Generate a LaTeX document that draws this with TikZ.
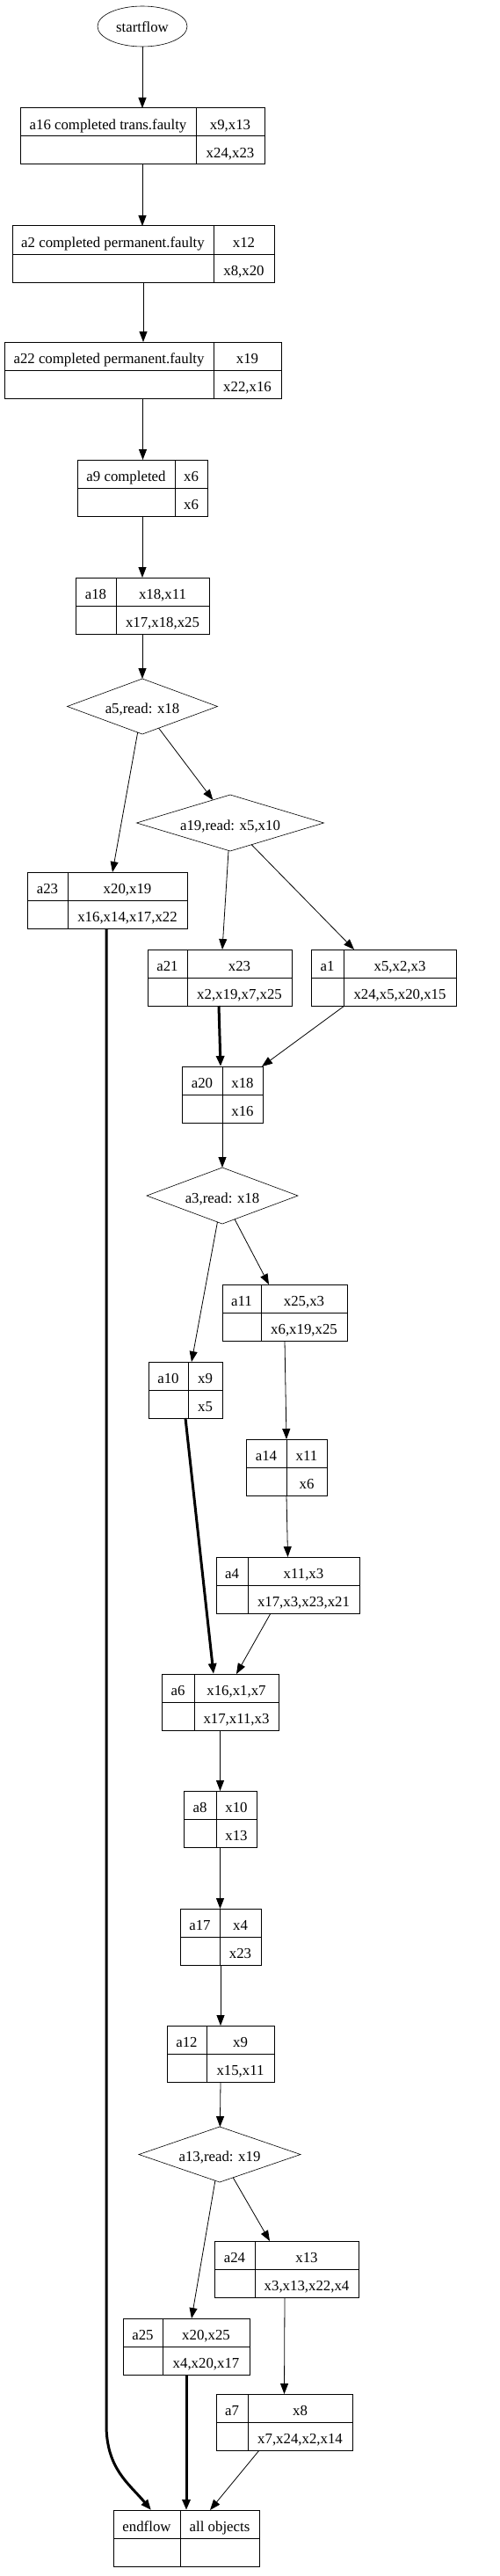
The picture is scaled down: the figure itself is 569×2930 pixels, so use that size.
\documentclass[tikz,border=0pt]{standalone}
\usepackage{fontspec}
\setmainfont{Liberation Serif}
\usetikzlibrary{arrows.meta,shapes.geometric}
\tikzset{
  recbox/.style={draw, line width=1pt, rectangle, inner sep=0pt, outer sep=0pt},
  recline/.style={line width=1pt},
  lbl/.style={anchor=base, inner sep=0pt, font=\fontsize{16.8}{20}\selectfont},
  dia/.style={draw, line width=0.6pt, shape=diamond, inner sep=0pt, outer sep=0pt},
  arr/.style={line width=0.8pt, -{Triangle[length=12pt,width=9pt]}},
  bold/.style={line width=3pt},
}
\newcommand\rec[9]{%
  \node[recbox, minimum width={(#3-#2)*1pt}, minimum height={(#6-#5)*1pt}] (#1) at ({(#2+#3)/2},{(#5+#6)/2}) {};
  \draw[recline] (#1.west) -- (#1.east);
  \draw[recline] (#4,#5) -- (#4,#6);
  \node[lbl] (#1-l) at ({(#2+#4)/2},{#5+24.4}) {#7};
  \node[lbl] (#1-t) at ({(#4+#3)/2},{#5+24.4}) {#8};
  \node[lbl] (#1-b) at ({(#4+#3)/2},{#5+56.4}) {#9};
}
\newcommand\dmd[6]{%
  \node[dia, minimum width={#4*1pt}, minimum height={#5*1pt}] (#1) at (#2,#3) {};
  \node[lbl] (#1-t) at (#2,{#3+8}) {#6};
}
\begin{document}
\begin{tikzpicture}[x=1pt,y=-1pt]
\fill[white] (0,0) rectangle (569,2930);
\useasboundingbox (0,0) rectangle (569,2930);

\node[draw, ellipse, line width=0.6pt, minimum width=102pt, minimum height=46pt, inner sep=0pt, outer sep=0pt] (start) at (162,30) {};
\node[lbl] (start-t) at (162,37) {startflow};

\rec{a16}{23}{301}{223}{123}{187}{a16 completed trans.faulty}{x9,x13}{x24,x23}
\rec{a2}{14}{312}{243}{257}{321}{a2 completed permanent.faulty}{x12}{x8,x20}
\rec{a22}{5}{320}{243}{389}{453}{a22 completed permanent.faulty}{x19}{x22,x16}
\rec{a9}{88}{236}{199}{523}{587}{a9 completed}{x6}{x6}
\rec{a18}{86}{238}{132}{657}{721}{a18}{x18,x11}{x17,x18,x25}
\dmd{a5}{162}{803.5}{171}{63}{a5,read: x18}
\dmd{a19}{262}{936}{213}{64}{a19,read: x5,x10}
\rec{a23}{31}{213}{77}{992}{1056}{a23}{x20,x19}{x16,x14,x17,x22}
\rec{a21}{168}{332}{213}{1080}{1144}{a21}{x23}{x2,x19,x7,x25}
\rec{a1}{354}{519}{391}{1080}{1144}{a1}{x5,x2,x3}{x24,x5,x20,x15}
\rec{a20}{207}{299}{253}{1213}{1277}{a20}{x18}{x16}
\dmd{a3}{253}{1360}{172}{64}{a3,read: x18}
\rec{a11}{253}{395}{297}{1461}{1525}{a11}{x25,x3}{x6,x19,x25}
\rec{a10}{169}{253}{214}{1549}{1613}{a10}{x9}{x5}
\rec{a14}{280}{372}{326}{1637}{1701}{a14}{x11}{x6}
\rec{a4}{246}{409}{282}{1771}{1835}{a4}{x11,x3}{x17,x3,x23,x21}
\rec{a6}{184}{317}{221}{1904}{1968}{a6}{x16,x1,x7}{x17,x11,x3}
\rec{a8}{209}{292}{246}{2037}{2101}{a8}{x10}{x13}
\rec{a17}{205}{297}{250}{2171}{2235}{a17}{x4}{x23}
\rec{a12}{190}{312}{235}{2304}{2368}{a12}{x9}{x15,x11}
\dmd{a13}{250}{2450.5}{184}{63}{a13,read: x19}
\rec{a24}{244}{408}{290}{2549}{2613}{a24}{x13}{x3,x13,x22,x4}
\rec{a25}{140}{284}{185}{2637}{2701}{a25}{x20,x25}{x4,x20,x17}
\rec{a7}{246}{401}{282}{2723}{2787}{a7}{x8}{x7,x24,x2,x14}
\rec{endflow}{129}{295}{205}{2855}{2919}{endflow}{all objects}{}

\draw[arr] (start) -- (start |- a16.north);
\draw[arr] (a16.south) -- (a16.south |- a2.north);
\draw[arr] (a2.south) -- (a2.south |- a22.north);
\draw[arr] (a22.south) -- (a22.south |- a9.north);
\draw[arr] (a9.south) -- (a9.south |- a18.north);
\draw[arr] (a18.south) -- (a5);
\draw[arr] (a5) -- ([xshift=6pt]a23.north);
\draw[arr] (a5) -- (a19);
\draw[arr] (a19) -- ([xshift=3pt]a21.north);
\draw[arr] (a19) -- ([xshift=-33.5pt]a1.north);
\draw[arr,bold] ([xshift=-1pt]a21.south) -- ([xshift=-2pt]a20.north);
\draw[arr] ([xshift=-44.5pt]a1.south) -- ([xshift=45pt]a20.north);
\draw[arr] (a20.south) -- (a3);
\draw[arr] (a3) -- ([xshift=7pt]a10.north);
\draw[arr] (a3) -- ([xshift=-18pt]a11.north);
\draw[arr] (a11.south) -- (a14.north);
\draw[arr,bold] (a10.south) -- ([xshift=-7.5pt]a6.north);
\draw[arr] (a14.south) -- (a4.north);
\draw[arr] ([xshift=-19.5pt]a4.south) -- ([xshift=18.5pt]a6.north);
\draw[arr] (a6.south) -- (a6.south |- a8.north);
\draw[arr] (a8.south) -- (a8.south |- a17.north);
\draw[arr] (a17.south) -- (a17.south |- a12.north);
\draw[arr] (a12.south) -- (a13);
\draw[arr] (a13) -- ([xshift=6pt]a25.north);
\draw[arr] (a13) -- ([xshift=-19pt]a24.north);
\draw[arr] ([xshift=-2pt]a24.south) -- (a7.north);
\draw[arr,bold] (a25.south) -- (a25.south |- endflow.north);
\draw[arr] ([xshift=-28.5pt]a7.south) -- ([xshift=27pt]endflow.north);
\draw[arr,bold] ([xshift=-1pt]a23.south) -- ++(0,1702) .. controls +(0,50) and +(-25,-30) .. ([xshift=-40pt]endflow.north);
\end{tikzpicture}
\end{document}
